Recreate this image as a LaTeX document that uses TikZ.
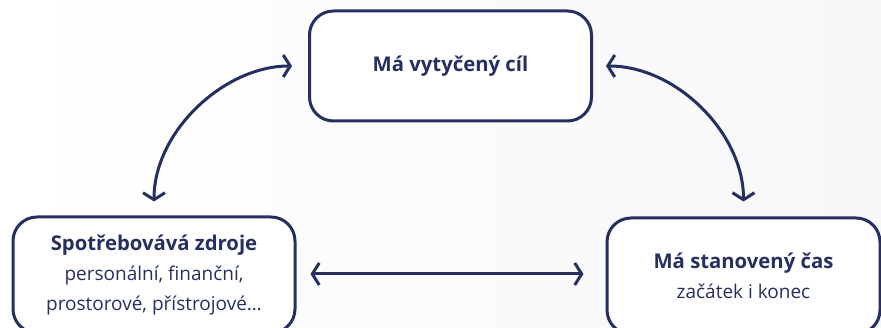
\documentclass[tikz,border=0pt]{standalone}
\usepackage{fontspec}
\setmainfont{Open Sans}
\usetikzlibrary{arrows.meta, positioning}
\definecolor{navyFg}{RGB}{38, 48, 96}
\definecolor{paperBg}{RGB}{247, 247, 249}
\newcommand{\cardTitle}[1]{{\fontsize{20.3}{30}\selectfont\textbf{#1}}}
\tikzstyle{arrow} = [line width=3pt, draw=navyFg, {Straight Barb[length=7pt,width=22pt]}-{Straight Barb[length=7pt,width=22pt]}]
\tikzstyle{card} = [rectangle, rounded corners=24pt, line width=3pt, draw=navyFg, fill=white, text=navyFg, align=center, font=\fontsize{19}{30}\selectfont]

\begin{document}
\begin{tikzpicture}[x=1pt, y=-1pt]
\useasboundingbox (0,0) rectangle (881,328);
\clip (0,0) rectangle (881,328);
\fill[left color=white, right color=paperBg] (0,0) rectangle (881,328);

\node (goal) [card, minimum width=282pt, minimum height=110pt] at (450.5,66) {\cardTitle{Má vytyčený cíl}};
\node (res) [card, minimum width=282pt, minimum height=116pt] at (154,275) {\cardTitle{Spotřebovává zdroje}\\personální, finanční,\\prostorové, přístrojové\dots};
\node (time) [card, minimum width=273pt, minimum height=116pt] at (743.5,276) {\cardTitle{Má stanovený čas}\\začátek i konec};

\draw [arrow, shorten <=14pt, shorten >=16pt] (res.north) to[out=90, in=180] (goal.west);
\draw [arrow, shorten <=13pt, shorten >=15pt] (goal.east) to[out=0, in=90] (time.north);
\draw [arrow, shorten <=14pt, shorten >=22pt] (res.east |- 0,274) coordinate (resR) (resR) -- (resR -| time.west);

\end{tikzpicture}
\end{document}
